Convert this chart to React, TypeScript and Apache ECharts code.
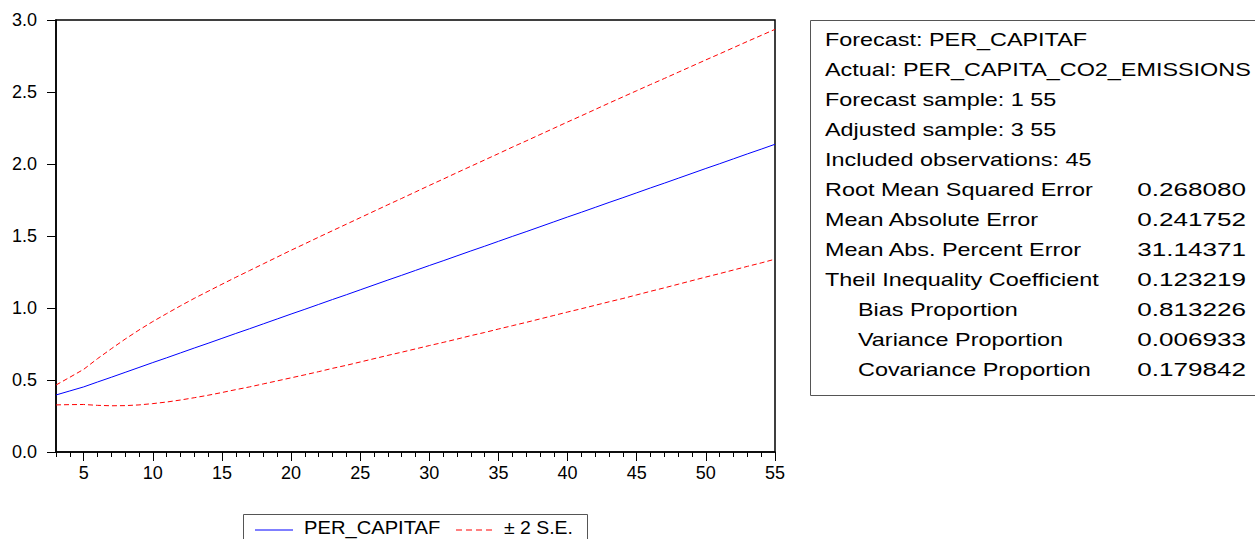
import { useEffect, useRef } from "react";
import * as echarts from "echarts";

const periods = [3, 4, 5, 6, 7, 8, 9, 10, 11, 12, 13, 14, 15, 16, 17, 18, 19, 20, 21, 22, 23, 24, 25, 26, 27, 28, 29, 30, 31, 32, 33, 34, 35, 36, 37, 38, 39, 40, 41, 42, 43, 44, 45, 46, 47, 48, 49, 50, 51, 52, 53, 54, 55];

const forecast = [0.396, 0.424, 0.452, 0.486, 0.519, 0.553, 0.587, 0.621, 0.654, 0.688, 0.722, 0.755, 0.789, 0.823, 0.856, 0.89, 0.924, 0.958, 0.991, 1.025, 1.059, 1.092, 1.126, 1.16, 1.194, 1.227, 1.261, 1.295, 1.328, 1.362, 1.396, 1.429, 1.463, 1.497, 1.53, 1.564, 1.598, 1.632, 1.665, 1.699, 1.733, 1.766, 1.8, 1.834, 1.867, 1.901, 1.935, 1.969, 2.002, 2.036, 2.07, 2.103, 2.137];

const upper = [0.465, 0.519, 0.574, 0.648, 0.717, 0.784, 0.847, 0.906, 0.961, 1.015, 1.067, 1.116, 1.165, 1.213, 1.26, 1.307, 1.354, 1.401, 1.446, 1.492, 1.537, 1.582, 1.627, 1.672, 1.717, 1.761, 1.806, 1.851, 1.895, 1.94, 1.984, 2.028, 2.072, 2.117, 2.16, 2.204, 2.248, 2.292, 2.335, 2.379, 2.423, 2.466, 2.509, 2.552, 2.594, 2.637, 2.68, 2.723, 2.765, 2.808, 2.851, 2.893, 2.935];

const lower = [0.327, 0.329, 0.33, 0.324, 0.321, 0.322, 0.327, 0.336, 0.347, 0.361, 0.377, 0.394, 0.413, 0.433, 0.452, 0.473, 0.494, 0.515, 0.536, 0.558, 0.581, 0.602, 0.625, 0.648, 0.671, 0.693, 0.716, 0.739, 0.761, 0.784, 0.808, 0.83, 0.854, 0.877, 0.9, 0.924, 0.948, 0.972, 0.995, 1.019, 1.043, 1.066, 1.091, 1.116, 1.14, 1.165, 1.19, 1.215, 1.239, 1.264, 1.289, 1.313, 1.339];

const statLabels = [
  "Forecast: PER_CAPITAF",
  "Actual: PER_CAPITA_CO2_EMISSIONS",
  "Forecast sample: 1 55",
  "Adjusted sample: 3 55",
  "Included observations: 45",
  "Root Mean Squared Error",
  "Mean Absolute Error",
  "Mean Abs. Percent Error",
  "Theil Inequality Coefficient",
  "Bias Proportion",
  "Variance Proportion",
  "Covariance Proportion",
];
const statValues = ["", "", "", "", "", "0.268080", "0.241752", "31.14371", "0.123219", "0.813226", "0.006933", "0.179842"];
const statIndented = [false, false, false, false, false, false, false, false, false, true, true, true];

const legendNames = ["PER_CAPITAF", "± 2 S.E."];

const FONT = "'Liberation Sans', Arial, sans-serif";

export default function App() {
  const ref = useRef<HTMLDivElement>(null);
  useEffect(() => {
    if (!ref.current) return;
    const chart = echarts.init(ref.current, null, { renderer: "svg" });
    const cats = periods.map(String);
    const isMajor = (_i: number, v: string) => Number(v) % 5 === 0;

    const graphic: any[] = [];
    // stats box
    graphic.push({
      type: "rect",
      shape: { x: 810.5, y: 20.5, width: 470, height: 375 },
      style: { fill: "none", stroke: "#555", lineWidth: 1 },
    });
    statLabels.forEach((t, i) => {
      const y = 40 + 30 * i;
      graphic.push({
        type: "text",
        x: statIndented[i] ? 858 : 825,
        y,
        scaleX: 1.3,
        style: { text: t, fontSize: 18, fontFamily: FONT, fill: "#000", align: "left", verticalAlign: "middle" },
      });
      if (statValues[i]) {
        graphic.push({
          type: "text",
          x: 1246,
          y,
          scaleX: 1.45,
          style: { text: statValues[i], fontSize: 18, fontFamily: FONT, fill: "#000", align: "right", verticalAlign: "middle" },
        });
      }
    });
    // legend box
    graphic.push({
      type: "rect",
      shape: { x: 243.5, y: 514.5, width: 344, height: 40 },
      style: { fill: "none", stroke: "#555", lineWidth: 1 },
    });
    graphic.push({
      type: "line",
      shape: { x1: 255, y1: 530, x2: 293, y2: 530 },
      style: { stroke: "#0000ff", lineWidth: 1 },
    });
    graphic.push({
      type: "text",
      x: 304,
      y: 528,
      scaleX: 1.12,
      style: { text: legendNames[0], fontSize: 18, fontFamily: FONT, fill: "#000", align: "left", verticalAlign: "middle" },
    });
    graphic.push({
      type: "line",
      shape: { x1: 456, y1: 530, x2: 495, y2: 530 },
      style: { stroke: "#ff0000", lineWidth: 1, lineDash: [6, 4] },
    });
    graphic.push({
      type: "text",
      x: 504,
      y: 528,
      scaleX: 1.08,
      style: { text: legendNames[1], fontSize: 18, fontFamily: FONT, fill: "#000", align: "left", verticalAlign: "middle" },
    });

    chart.setOption({
      animation: false,
      backgroundColor: "#fff",
      textStyle: { fontFamily: FONT },
      grid: {
        left: 56,
        top: 20,
        width: 719,
        height: 432,
        show: true,
        borderColor: "#000",
        borderWidth: 1.5,
        backgroundColor: "transparent",
      },
      xAxis: [
        {
          type: "category",
          data: cats,
          boundaryGap: false,
          axisLine: { show: true, lineStyle: { color: "#000", width: 1.5 } },
          axisTick: { show: true, interval: 0, length: 5, lineStyle: { color: "#000", width: 1 } },
          axisLabel: { show: false },
          splitLine: { show: false },
        },
        {
          type: "category",
          data: cats,
          position: "bottom",
          boundaryGap: false,
          axisLine: { show: false },
          axisTick: { show: true, interval: isMajor, length: 9, lineStyle: { color: "#000", width: 1 } },
          axisLabel: { show: true, interval: isMajor, fontSize: 18, color: "#000", margin: 12, fontFamily: FONT },
          splitLine: { show: false },
        },
      ],
      yAxis: {
        type: "value",
        min: 0,
        max: 3,
        interval: 0.5,
        axisLine: { show: true, lineStyle: { color: "#000", width: 1.5 } },
        axisTick: { show: true, length: 9, lineStyle: { color: "#000", width: 1 } },
        axisLabel: { fontSize: 18, color: "#000", margin: 19, fontFamily: FONT, formatter: (v: number) => v.toFixed(1) },
        splitLine: { show: false },
      },
      series: [
        {
          name: legendNames[0],
          type: "line",
          data: forecast,
          symbol: "none",
          lineStyle: { color: "#0000ff", width: 1 },
          z: 3,
        },
        {
          name: legendNames[1],
          type: "line",
          data: upper,
          symbol: "none",
          lineStyle: { color: "#ff0000", width: 1, type: [5, 3] },
        },
        {
          name: legendNames[1],
          type: "line",
          data: lower,
          symbol: "none",
          lineStyle: { color: "#ff0000", width: 1, type: [5, 3] },
        },
      ],
      graphic,
    });
    return () => chart.dispose();
  }, []);
  return (
    <div
      ref={ref}
      style={{ position: "fixed", left: 0, top: 0, width: 1255, height: 539, background: "#fff" }}
    />
  );
}
